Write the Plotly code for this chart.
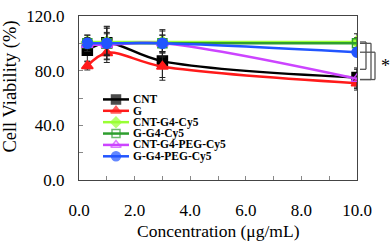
import plotly.graph_objects as go

# ---- data ----
conc = [0.3, 1.0, 3.0, 10.0]
series_names = ["CNT", "G", "CNT-G4-Cy5", "G-G4-Cy5", "CNT-G4-PEG-Cy5", "G-G4-PEG-Cy5"]
cnt = [95.0, 100.5, 87.0, 75.0]
g = [83.5, 93.0, 83.0, 70.8]
cnt_g4_cy5 = [101.0, 101.0, 101.0, 101.0]
g_g4_cy5 = [100.0, 100.0, 100.0, 100.0]
cnt_g4_peg_cy5 = [99.0, 99.0, 100.0, 74.0]
g_g4_peg_cy5 = [100.0, 100.0, 100.0, 93.5]

err_cnt = [8.0, 12.0, 12.0, 7.0]
err_g = [3.0, 7.0, 10.0, 5.0]
err_cnt_g4_cy5 = [5.0, 10.0, 8.0, 6.0]
err_g_g4_cy5 = [6.0, 12.0, 10.0, 4.0]
err_cnt_g4_peg_cy5 = [5.0, 8.0, 6.0, 7.0]
err_g_g4_peg_cy5 = [4.0, 8.0, 6.0, 3.0]

x_ticks = [0, 2, 4, 6, 8, 10]
x_tick_labels = ["0.0", "2.0", "4.0", "6.0", "8.0", "10.0"]
y_ticks = [0, 40, 80, 120]
y_tick_labels = ["0.0", "40.0", "80.0", "120.0"]

values = [cnt, g, cnt_g4_cy5, g_g4_cy5, cnt_g4_peg_cy5, g_g4_peg_cy5]
errors = [err_cnt, err_g, err_cnt_g4_cy5, err_g_g4_cy5, err_cnt_g4_peg_cy5, err_g_g4_peg_cy5]

# ---- styles ----
colors = ["#000000", "#ff1a1a", "#99ff33", "#2e9e2e", "#cc44ff", "#2255ff"]
symbols = ["square", "triangle-up", "diamond", "square-open", "triangle-up-open", "circle"]
msizes = [10, 10, 9, 9, 10, 10]

W, H = 392, 243
ML, MR, MT, MB = 79, 35, 7, 63
PW, PH = W - ML - MR, H - MT - MB
XMAX, YMAX = 10.0, 120.0

def px_to_x(px):
    return (px - ML) / PW * XMAX

def py_to_y(py):
    return (MT + PH - py) / PH * YMAX

def px_to_paper(px):
    return (px - ML) / PW

def py_to_paper(py):
    return (MT + PH - py) / PH

fig = go.Figure()

for name, vals, errs, c, s, ms in zip(series_names, values, errors, colors, symbols, msizes):
    fig.add_trace(go.Scatter(
        x=conc, y=vals, name=name, mode="lines+markers",
        line=dict(color=c, width=2.5, shape="spline", smoothing=1.0),
        marker=dict(symbol=s, size=ms, color=c, line=dict(color=c, width=1.5)),
        error_y=dict(type="data", array=errs, visible=True, color="#222222",
                     thickness=1, width=3),
        showlegend=False,
    ))

# ---- manual legend ----
legend_rows = [95, 107, 119, 131, 143, 155]
for name, c, s, ms, py in zip(series_names, colors, symbols, msizes, legend_rows):
    yv = py_to_y(py)
    fig.add_trace(go.Scatter(
        x=[px_to_x(103), px_to_x(116), px_to_x(129)], y=[yv, yv, yv],
        mode="lines+markers",
        line=dict(color=c, width=2.5),
        marker=dict(symbol=s, size=[0, ms - 1, 0], color=c, line=dict(color=c, width=1.5)),
        showlegend=False, hoverinfo="skip", cliponaxis=False,
    ))
    fig.add_annotation(
        x=px_to_paper(131), y=py_to_paper(py), xref="paper", yref="paper",
        text="<b>%s</b>" % name, showarrow=False, xanchor="left", yanchor="middle",
        font=dict(family="Liberation Serif", size=11.5, color="#000000"),
    )

# ---- significance brackets ----
brackets = [
    (cnt_g4_cy5[-1], 81.0, 366),
    (g_g4_cy5[-1], cnt[-1] - 1.5, 371),
    (g_g4_peg_cy5[-1], cnt[-1] - 1.5, 375),
]
for y_top, y_bot, bx in brackets:
    x0 = px_to_paper(360)
    x1 = px_to_paper(bx)
    yt = y_top / YMAX
    yb = y_bot / YMAX
    for (xa, ya, xb, yb2) in [(x0, yt, x1, yt), (x1, yt, x1, yb), (x1, yb, x0, yb)]:
        fig.add_shape(type="line", xref="paper", yref="paper",
                      x0=xa, y0=ya, x1=xb, y1=yb2,
                      line=dict(color="#555555", width=1.3))

fig.add_annotation(x=px_to_paper(385), y=py_to_paper(60), xref="paper", yref="paper",
                   text="*", showarrow=False, xanchor="center", yanchor="middle",
                   font=dict(family="Liberation Serif", size=18, color="#000000"))

# ---- axis titles ----
fig.add_annotation(x=px_to_paper(218), y=py_to_paper(233.5), xref="paper", yref="paper",
                   text="Concentration (μg/mL)", showarrow=False,
                   xanchor="center", yanchor="middle",
                   font=dict(family="Liberation Serif", size=17.5, color="#000000"))
fig.add_annotation(x=px_to_paper(10.5), y=py_to_paper(82), xref="paper", yref="paper",
                   text="Cell Viability (%)", showarrow=False, textangle=-90,
                   xanchor="center", yanchor="middle",
                   font=dict(family="Liberation Serif", size=18.5, color="#000000"))

axis_common = dict(
    showgrid=False, zeroline=False, showline=True, linecolor="#444444", linewidth=1,
    mirror=True, ticks="inside", ticklen=4, tickcolor="#888888",
    tickfont=dict(family="Liberation Serif", size=17, color="#000000"),
    ticklabeloverflow="allow",
)
fig.update_xaxes(range=[0, XMAX], tickvals=x_ticks, ticktext=x_tick_labels,
                 ticklabelstandoff=15,
                 minor=dict(dtick=1, ticks="inside", ticklen=4, tickcolor="#888888"),
                 **axis_common)
fig.update_yaxes(range=[0, YMAX], tickvals=y_ticks, ticktext=y_tick_labels,
                 ticklabelstandoff=10,
                 minor=dict(tickvals=[20, 60, 100], ticks="inside", ticklen=4, tickcolor="#888888"),
                 **axis_common)

fig.update_layout(
    width=W, height=H,
    margin=dict(l=ML, r=MR, t=MT, b=MB),
    paper_bgcolor="white", plot_bgcolor="white",
    showlegend=False,
    font=dict(family="Liberation Serif", color="#000000"),
)

fig.write_html("out.html", config={"displayModeBar": False},
               post_script="document.body.style.margin='0';")
